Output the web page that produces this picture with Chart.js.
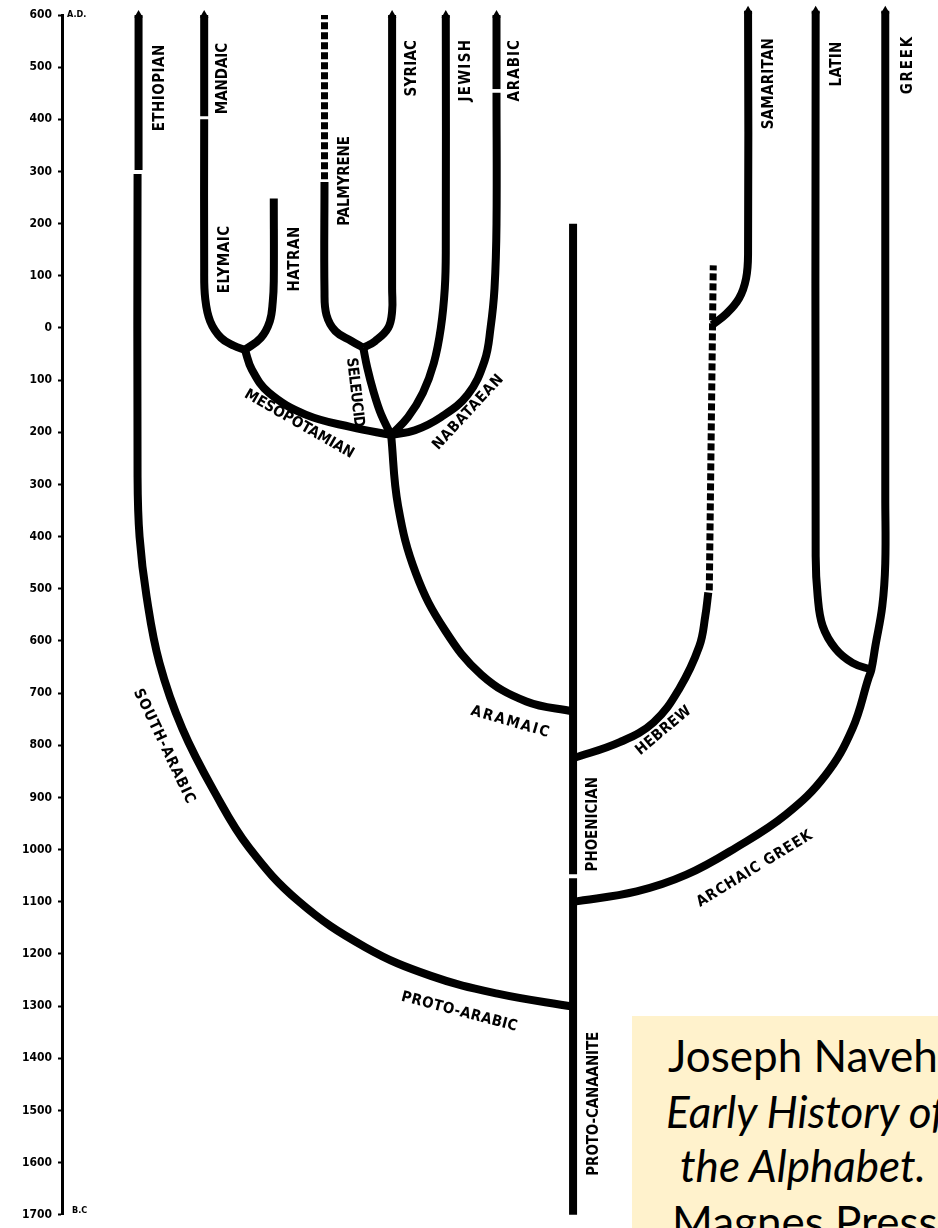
<!DOCTYPE html>
<html>
<head>
<meta charset="utf-8">
<title>Development of the alphabet – Naveh</title>
<script src="https://cdn.jsdelivr.net/npm/chart.js@4.4.1/dist/chart.umd.min.js"></script>
<style>
html,body{margin:0;padding:0;background:#fff;overflow:hidden}
#wrap{position:relative;width:938px;height:1228px;overflow:hidden;background:#fff}
#c{position:absolute;left:0;top:0}
#note{position:absolute;left:632px;top:1016px;width:420px;height:260px;background:#fff2cc;font-family:Lato,"Open Sans",sans-serif;color:#000}
#note div{position:absolute;white-space:nowrap;font-size:44px;line-height:44px}
#note .it{font-style:italic}
</style>
</head>
<body>
<div id="wrap">
<canvas id="c" width="938" height="1228"></canvas>
<div id="note">
  <div style="left:36px;top:17px">Joseph Naveh</div>
  <div class="it" style="left:34px;top:73px">Early History of</div>
  <div class="it" style="left:48px;top:127px">the Alphabet.</div>
  <div style="left:40px;top:183px">Magnes Press</div>
</div>
</div>
<script>
// ---- DATA: [lane, year]  (year: A.D. positive, B.C. negative) ----
const yearMin = -1700;
const yearMax = 600;
const yearStep = 100;
const eraLabels = ['A.D.', 'B.C'];

const protoCanaanite = [[257,-1700],[257,-1055]];
const phoenician     = [[257,-1047],[257,200]];
const protoArabic    = [[257,-1301],[219,-1276],[185.5,-1242],[152.5,-1187],[119,-1099]];
const southArabic    = [[94,-996],[77.5,-895],[60.5,-768],[49,-642],[42.5,-514],[39,-400],[38,-286],[38,295]];
const ethiopian      = [[38.5,303],[38.5,600]];
const aramaic        = [[257,-735],[233.5,-716],[211,-665],[192.5,-579],[178,-471],[169,-341],[165.5,-205]];
const mesopotamian   = [[165.5,-205],[145.5,-190],[122.5,-166],[104,-124],[95.5,-80],[92,-42]];
const elymaic        = [[92,-42],[86.5,-34],[80,-19],[74.5,13],[72,57],[71.5,114],[71.5,400]];
const mandaic        = [[71.5,406],[71.5,600]];
const hatran         = [[92,-42],[100,-19],[104.5,13],[106,51],[106.5,90],[106.5,248]];
const seleucid       = [[165.5,-205],[160.5,-166],[156.5,-120],[153.5,-76],[151.5,-38]];
const palmyrene      = [[151.5,-38],[145.5,-25],[137.5,-6],[133,25],[132,70],[132,280]];
const palmyreneLate  = [[132,285],[132,600]];
const syriac         = [[151.5,-38],[157.5,-25],[164,0],[166,32],[166,76],[166,600]];
const jewish         = [[165.5,-205],[174,-171],[181.5,-124],[187,-67],[190.5,0],[192.5,76],[193,152],[193,600]];
const nabataean      = [[165.5,-205],[177.5,-196],[190.5,-171],[204,-128],[212.5,-63],[215.5,0],[217.5,76],[218.5,200],[218.5,451]];
const arabic         = [[218.5,458],[218.5,600]];
const hebrew         = [[257,-825],[280.5,-794],[297.5,-756],[310.5,-691],[320.5,-610],[323.5,-552],[325,-507]];
const hebrewLate     = [[325.5,-503],[327.5,120]];
const samaritan      = [[327,6],[334,27],[340.5,57],[344,95],[345,143],[345,608]];
const archaicGreek   = [[257,-1100],[289,-1080],[314,-1048],[339,-996],[364,-933],[384,-857],[397.5,-768],[405.5,-672],[407,-655]];
const greek          = [[409,-610],[412.5,-533],[414,-451],[414,-324],[414,608]];
const latin          = [[407,-655],[397.5,-642],[389,-615],[382.5,-571],[380,-514],[379,-438],[379,608]];
const arrowTips      = [[38.5,600],[71.5,600],[166,600],[193,600],[218.5,600],[345,608],[379,608],[414,608]];

// ---- label layout: text placed along [start, middle, end] in [lane, year] ----
const branchLabels = [
  {text:'ETHIOPIAN',       path:[[49.5,377],[49.5,460],[49.5,543]]},
  {text:'MANDAIC',         path:[[81,410],[81,478],[81,547]]},
  {text:'ELYMAIC',         path:[[82,67],[82,131],[82,196]]},
  {text:'HATRAN',          path:[[117,70],[117,132],[117,194]]},
  {text:'PALMYRENE',       path:[[142.5,196],[142.5,282],[142.5,368]]},
  {text:'SYRIAC',          path:[[176,444],[176,498],[176,552]]},
  {text:'JEWISH',          path:[[203,434],[203,493],[203,552]]},
  {text:'ARABIC',          path:[[228,434],[228,493],[228,552]]},
  {text:'SAMARITAN',       path:[[355.5,381],[355.5,468],[355.5,556]]},
  {text:'LATIN',           path:[[390,463],[390,506],[390,549]]},
  {text:'GREEK',           path:[[425.5,448],[425.5,503],[425.5,558]]},
  {text:'PHOENICIAN',      path:[[267,-1042],[267,-951],[267,-861]]},
  {text:'PROTO-CANAANITE', path:[[267.5,-1625],[267.5,-1487],[267.5,-1349]]},
  {text:'MESOPOTAMIAN',    path:[[91,-120],[120.5,-190],[145,-238]]},
  {text:'SELEUCID',        path:[[145.5,-57],[147,-124],[149.5,-190]]},
  {text:'NABATAEAN',       path:[[188,-230],[204,-162],[221,-94]]},
  {text:'ARAMAIC',         path:[[206,-733],[225,-756],[245,-776]]},
  {text:'HEBREW',          path:[[289.5,-813],[302.5,-773],[315.5,-730]]},
  {text:'ARCHAIC GREEK',   path:[[318,-1099],[350,-1042],[375,-966]]},
  {text:'SOUTH-ARABIC',    path:[[39,-691],[50,-804],[66,-907]]},
  {text:'PROTO-ARABIC',    path:[[171.5,-1279],[199,-1314],[229.5,-1337]]}
];

const toXY = pts => pts.map(([x, y]) => ({x, y}));
const solid = (label, pts) => ({
  label, data: toXY(pts), showLine: true, borderColor: '#000', backgroundColor: '#000',
  borderWidth: 8, pointRadius: 0, tension: 0.4, borderCapStyle: 'butt',
  borderJoinStyle: 'round', clip: false, fill: false
});
const dashed = (label, pts) => Object.assign(solid(label, pts), {borderDash: [7, 3], borderWidth: 7, tension: 0});

const datasets = [
  solid('Proto-Canaanite', protoCanaanite),
  solid('Phoenician', phoenician),
  solid('Proto-Arabic / South-Arabic', protoArabic.concat(southArabic)),
  solid('Ethiopian', ethiopian),
  solid('Aramaic', aramaic),
  solid('Mesopotamian', mesopotamian),
  solid('Elymaic', elymaic),
  solid('Mandaic', mandaic),
  solid('Hatran', hatran),
  solid('Seleucid', seleucid),
  solid('Palmyrene', palmyrene),
  dashed('Palmyrene (late)', palmyreneLate),
  solid('Syriac', syriac),
  solid('Jewish', jewish),
  solid('Nabataean', nabataean),
  solid('Arabic', arabic),
  solid('Hebrew', hebrew),
  dashed('Hebrew (late)', hebrewLate),
  solid('Samaritan', samaritan),
  solid('Archaic Greek / Greek', archaicGreek.concat(greek)),
  solid('Latin', latin),
  {label: 'tips', data: toXY(arrowTips), showLine: false, pointStyle: 'triangle', pointRadius: 5,
   pointBackgroundColor: '#000', pointBorderWidth: 0, pointBorderColor: '#000', clip: false}
];

const LABEL_FONT = 'bold 15px "DejaVu Sans Condensed", "DejaVu Sans", sans-serif';

function drawLabel(ctx, xs, ys, lb) {
  const p = lb.path.map(([a, b]) => ({x: xs.getPixelForValue(a), y: ys.getPixelForValue(b)}));
  const dx = p[2].x - p[0].x, dy = p[2].y - p[0].y;
  const L = Math.hypot(dx, dy);
  const ang = Math.atan2(dy, dx);
  const cx = ((p[0].x + p[2].x) / 2 + p[1].x) / 2;
  const cy = ((p[0].y + p[2].y) / 2 + p[1].y) / 2;
  ctx.save();
  ctx.font = LABEL_FONT;
  if ('letterSpacing' in ctx) ctx.letterSpacing = '0px';
  const W = ctx.measureText(lb.text).width;
  const n = lb.text.length;
  let sp = n > 1 ? (L - W) / (n - 1) : 0;
  sp = Math.max(-1.5, Math.min(5, sp));
  let total = W;
  if ('letterSpacing' in ctx) { ctx.letterSpacing = sp + 'px'; total = W + sp * (n - 1); }
  ctx.translate(cx, cy);
  ctx.rotate(ang);
  ctx.textAlign = 'left';
  ctx.textBaseline = 'middle';
  ctx.fillStyle = '#000';
  ctx.fillText(lb.text, -total / 2, 0);
  ctx.restore();
}

const labelPlugin = {
  id: 'branchLabels',
  afterDatasetsDraw(chart) {
    const {ctx, scales: {x, y}, chartArea} = chart;
    ctx.save();
    ctx.fillStyle = '#000';
    ctx.font = 'bold 9px "DejaVu Sans Condensed", "DejaVu Sans", sans-serif';
    ctx.textAlign = 'left';
    ctx.textBaseline = 'middle';
    ctx.fillText(eraLabels[0], chartArea.left + 5, y.getPixelForValue(yearMax));
    ctx.fillText(eraLabels[1], chartArea.left + 10, y.getPixelForValue(yearMin) - 4);
    ctx.restore();
    branchLabels.forEach(lb => drawLabel(ctx, x, y, lb));
  }
};

new Chart(document.getElementById('c'), {
  type: 'scatter',
  data: {datasets},
  options: {
    responsive: false,
    animation: false,
    devicePixelRatio: 1,
    events: [],
    layout: {padding: {top: 15, bottom: 6, left: 0, right: 0}},
    plugins: {legend: {display: false}, tooltip: {enabled: false}},
    scales: {
      x: {type: 'linear', min: 0, max: 438, display: false},
      y: {
        type: 'linear', min: yearMin, max: yearMax, position: 'left',
        afterFit: s => { s.width = 62; },
        ticks: {
          stepSize: yearStep, autoSkip: false, color: '#000', padding: 6,
          font: {family: '"DejaVu Sans Condensed", "DejaVu Sans", sans-serif', weight: 'bold', size: 12},
          callback: v => String(Math.abs(v))
        },
        grid: {display: true, drawOnChartArea: false, drawTicks: true, tickLength: 4, tickWidth: 2, tickColor: '#000'},
        border: {display: true, color: '#000', width: 3}
      }
    }
  },
  plugins: [labelPlugin]
});
</script>
</body>
</html>
